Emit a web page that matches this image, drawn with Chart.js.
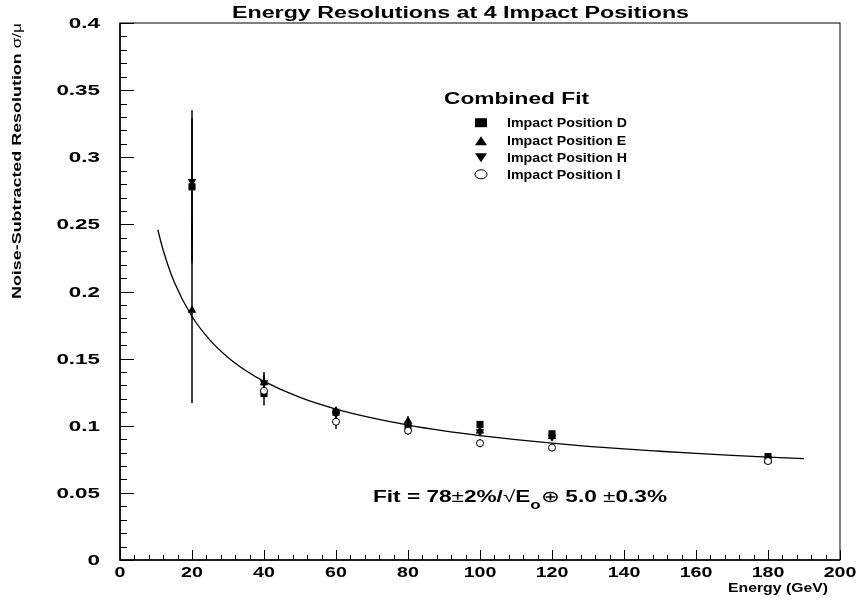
<!DOCTYPE html>
<html>
<head>
    <title>Energy Resolutions at 4 Impact Positions</title>
    <script src="https://cdn.jsdelivr.net/npm/chart.js"></script>
    <style>
        body { margin: 0; background: #fff; }
    </style>
</head>
<body>
    <canvas id="resChart" width="861" height="603"></canvas>

    <script>
        // beam energies (GeV)
        const energies = [20, 40, 60, 80, 100, 120, 180];

        // noise-subtracted resolution sigma/mu per impact position, with errors
        const resD = [0.278, 0.124, 0.110, 0.098, 0.101, 0.094, 0.077];
        const errD = [0.057, 0.009, 0.004, 0.003, 0.002, 0.002, 0.002];
        const resE = [0.186, 0.132, 0.111, 0.1035, 0.096, 0.092, 0.074];
        const errE = [0.069, 0.006, 0.003, 0.0035, 0.003, 0.002, 0.002];
        const resH = [0.282, 0.132, 0.109, 0.100, 0.0956, 0.0916, 0.075];
        const errH = [0.047, 0.008, 0.003, 0.003, 0.003, 0.002, 0.002];
        const resI = [null, 0.126, 0.103, 0.0963, 0.087, 0.0837, 0.0737];
        const errI = [null, 0.005, 0.0055, 0.003, 0.003, 0.002, 0.002];

        // combined fit curve
        const fitE = [10.5, 12, 15, 20, 25, 30, 35, 40, 50, 60, 70, 80, 90, 100, 110, 120, 130, 140, 150, 160, 170, 180, 190];
        const fitRes = [0.246, 0.2307, 0.2075, 0.1814, 0.1638, 0.1509, 0.1410, 0.1331, 0.1211, 0.1124, 0.1058, 0.1005,
                        0.0962, 0.0927, 0.0896, 0.0870, 0.0847, 0.0827, 0.0810, 0.0794, 0.0780, 0.0767, 0.0755];

        // axis ticks
        const xTicks = [0, 20, 40, 60, 80, 100, 120, 140, 160, 180, 200];
        const xTickLabels = ['0', '20', '40', '60', '80', '100', '120', '140', '160', '180', '200'];
        const yTicks = [0, 0.05, 0.1, 0.15, 0.2, 0.25, 0.3, 0.35, 0.4];
        const yTickLabels = ['0', '0.05', '0.1', '0.15', '0.2', '0.25', '0.3', '0.35', '0.4'];

        const legendNames = ['Impact Position D', 'Impact Position E', 'Impact Position H', 'Impact Position I'];

        const FONT = '"Liberation Sans", Arial, Helvetica, sans-serif';

        function toPoints(xs, ys) {
            return xs.map((x, i) => ({ x: x, y: ys[i] })).filter(p => p.y !== null);
        }

        function setFont(ctx, size, weight) {
            ctx.font = (weight || 'bold') + ' ' + size + 'px ' + FONT;
        }

        // draw text stretched horizontally by sx
        function drawText(ctx, s, x, y, size, sx, align, weight) {
            ctx.save();
            setFont(ctx, size, weight);
            ctx.translate(x, y);
            ctx.scale(sx, 1);
            ctx.textAlign = align || 'left';
            ctx.textBaseline = 'alphabetic';
            ctx.fillStyle = '#000';
            ctx.fillText(s, 0, 0);
            ctx.restore();
        }

        function stretchFor(ctx, s, size, width, weight) {
            setFont(ctx, size, weight);
            return width / ctx.measureText(s).width;
        }

        // draw a row of text pieces (mixed fonts) fitted to a total width
        function drawPieces(ctx, pieces, x, y, width) {
            let total = 0;
            pieces.forEach(p => {
                setFont(ctx, p.size, p.weight);
                p.w = ctx.measureText(p.t).width;
                total += p.w;
            });
            const sx = width / total;
            ctx.save();
            ctx.translate(x, y);
            ctx.scale(sx, 1);
            ctx.fillStyle = '#000';
            ctx.textBaseline = 'alphabetic';
            let cx = 0;
            pieces.forEach(p => {
                setFont(ctx, p.size, p.weight);
                ctx.fillText(p.t, cx, p.dy || 0);
                cx += p.w;
            });
            ctx.restore();
        }

        function marker(ctx, style, x, y, w, h) {
            ctx.save();
            ctx.fillStyle = '#000';
            ctx.strokeStyle = '#000';
            ctx.lineWidth = 1;
            ctx.beginPath();
            if (style === 'rect') {
                ctx.rect(x - w / 2, y - h / 2, w, h);
                ctx.fill();
            } else if (style === 'up') {
                ctx.moveTo(x, y - h / 2);
                ctx.lineTo(x + w / 2, y + h / 2);
                ctx.lineTo(x - w / 2, y + h / 2);
                ctx.closePath();
                ctx.fill();
            } else if (style === 'down') {
                ctx.moveTo(x, y + h / 2);
                ctx.lineTo(x + w / 2, y - h / 2);
                ctx.lineTo(x - w / 2, y - h / 2);
                ctx.closePath();
                ctx.fill();
            } else {
                ctx.ellipse(x, y, w / 2, h / 2, 0, 0, Math.PI * 2);
                ctx.fillStyle = '#fff';
                ctx.fill();
                ctx.stroke();
            }
            ctx.restore();
        }

        const frameAndText = {
            id: 'frameAndText',
            beforeDraw(chart) {
                const ctx = chart.ctx;
                ctx.save();
                ctx.fillStyle = '#fff';
                ctx.fillRect(0, 0, chart.width, chart.height);
                ctx.restore();
            },
            beforeDatasetsDraw(chart) {
                // vertical error bars
                const ctx = chart.ctx;
                const xs = chart.scales.x, ys = chart.scales.y;
                ctx.save();
                ctx.strokeStyle = '#000';
                ctx.lineWidth = 1.5;
                chart.data.datasets.forEach(ds => {
                    if (!ds.errors) return;
                    ds.data.forEach(p => {
                        const i = energies.indexOf(p.x);
                        const e = ds.errors[i];
                        if (!e) return;
                        const px = xs.getPixelForValue(p.x);
                        ctx.beginPath();
                        ctx.moveTo(px, ys.getPixelForValue(p.y + e));
                        ctx.lineTo(px, ys.getPixelForValue(p.y - e));
                        ctx.stroke();
                    });
                });
                ctx.restore();
            },
            afterDraw(chart) {
                const ctx = chart.ctx;
                const a = chart.chartArea;
                const xs = chart.scales.x, ys = chart.scales.y;

                // frame
                ctx.save();
                ctx.strokeStyle = '#000';
                ctx.lineWidth = 1;
                ctx.strokeRect(a.left, a.top, a.right - a.left, a.bottom - a.top);
                ctx.lineWidth = 1.5;
                ctx.beginPath();
                ctx.moveTo(a.left, a.top);
                ctx.lineTo(a.left, a.bottom);
                ctx.lineTo(a.right, a.bottom);
                ctx.stroke();

                // inward ticks, minor and major
                ctx.lineWidth = 1;
                ctx.beginPath();
                for (let v = 0; v <= 200; v += 4) {
                    const px = Math.round(xs.getPixelForValue(v)) + 0.5;
                    const len = (v % 20 === 0) ? 10 : 5;
                    ctx.moveTo(px, a.bottom);
                    ctx.lineTo(px, a.bottom - len);
                }
                for (let k = 0; k <= 40; k++) {
                    const py = Math.round(ys.getPixelForValue(k / 100)) + 0.5;
                    const len = (k % 5 === 0) ? 14 : 7;
                    ctx.moveTo(a.left, py);
                    ctx.lineTo(a.left + len, py);
                }
                ctx.stroke();
                ctx.restore();

                // tick labels
                xTicks.forEach((v, i) => {
                    drawText(ctx, xTickLabels[i], xs.getPixelForValue(v), a.bottom + 17, 14, 1.4, 'center');
                });
                yTicks.forEach((v, i) => {
                    drawText(ctx, yTickLabels[i], a.left - 20, ys.getPixelForValue(v) + 5, 14, 1.6, 'right');
                });

                // title
                const title = 'Energy Resolutions at 4 Impact Positions';
                drawText(ctx, title, 460.5, 18, 16, stretchFor(ctx, title, 16, 457), 'center');

                // x axis title
                const xTitle = 'Energy (GeV)';
                drawText(ctx, xTitle, 828, 592, 13, stretchFor(ctx, xTitle, 13, 100), 'right');

                // y axis title, rotated
                ctx.save();
                ctx.translate(21, 299);
                ctx.rotate(-Math.PI / 2);
                drawPieces(ctx, [
                    { t: 'Noise-Subtracted Resolution ', size: 12.5, weight: 'bold' },
                    { t: 'σ/μ', size: 12, weight: 'normal' }
                ], 0, 0, 276);
                ctx.restore();

                // legend
                const lt = 'Combined Fit';
                drawText(ctx, lt, 444, 104, 16, stretchFor(ctx, lt, 16, 145), 'left');
                const lsx = stretchFor(ctx, legendNames[0], 12, 120);
                const rows = [122.7, 140.7, 157.7, 174.3];
                const styles = ['rect', 'up', 'down', 'circle'];
                legendNames.forEach((n, i) => {
                    marker(ctx, styles[i], 481, rows[i], 12, 9);
                    drawText(ctx, n, 507, rows[i] + 4.5, 12, lsx, 'left');
                });

                // fit result text
                drawPieces(ctx, [
                    { t: 'Fit = 78', size: 16, weight: 'bold' },
                    { t: '±', size: 16, weight: 'normal' },
                    { t: '2%/', size: 16, weight: 'bold' },
                    { t: '√', size: 16, weight: 'normal' },
                    { t: 'E', size: 16, weight: 'bold' },
                    { t: 'o', size: 12, weight: 'bold', dy: 7 },
                    { t: '⊕', size: 16, weight: 'normal' },
                    { t: ' 5.0 ', size: 16, weight: 'bold' },
                    { t: '±', size: 16, weight: 'normal' },
                    { t: '0.3%', size: 16, weight: 'bold' }
                ], 373, 502, 294);
            }
        };

        const ctx = document.getElementById('resChart').getContext('2d');
        const resChart = new Chart(ctx, {
            type: 'scatter',
            data: {
                datasets: [
                    {
                        label: 'Combined Fit',
                        data: toPoints(fitE, fitRes),
                        showLine: true,
                        borderColor: '#000',
                        borderWidth: 1.3,
                        pointRadius: 0,
                        cubicInterpolationMode: 'monotone'
                    },
                    {
                        label: legendNames[3],
                        data: toPoints(energies, resI),
                        errors: errI,
                        pointStyle: 'circle',
                        pointRadius: 3.5,
                        backgroundColor: '#fff',
                        borderColor: '#000',
                        borderWidth: 1
                    },
                    {
                        label: legendNames[2],
                        data: toPoints(energies, resH),
                        errors: errH,
                        pointStyle: 'triangle',
                        rotation: 180,
                        pointRadius: 5,
                        backgroundColor: '#000',
                        borderColor: '#000',
                        borderWidth: 0
                    },
                    {
                        label: legendNames[1],
                        data: toPoints(energies, resE),
                        errors: errE,
                        pointStyle: 'triangle',
                        pointRadius: 5,
                        backgroundColor: '#000',
                        borderColor: '#000',
                        borderWidth: 0
                    },
                    {
                        label: legendNames[0],
                        data: toPoints(energies, resD),
                        errors: errD,
                        pointStyle: 'rect',
                        pointRadius: 5,
                        backgroundColor: '#000',
                        borderColor: '#000',
                        borderWidth: 0
                    }
                ]
            },
            options: {
                responsive: false,
                animation: false,
                layout: { padding: { left: 120, right: 21, top: 23, bottom: 43 } },
                scales: {
                    x: { type: 'linear', min: 0, max: 200, display: false },
                    y: { type: 'linear', min: 0, max: 0.4, display: false }
                },
                plugins: {
                    legend: { display: false },
                    tooltip: { enabled: false }
                }
            },
            plugins: [frameAndText]
        });
    </script>
</body>
</html>
